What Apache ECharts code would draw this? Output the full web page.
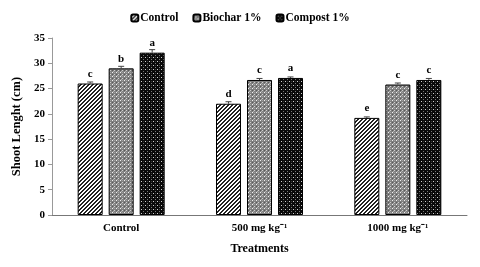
<!DOCTYPE html>
<html><head><meta charset="utf-8">
<script src="https://cdn.jsdelivr.net/npm/echarts@6/dist/echarts.min.js"></script>
<style>html,body{margin:0;padding:0;background:#fff}#c{width:480px;height:267px}</style>
</head><body><div id="c"></div>
<script>
var categories = ['Control', '500 mg kg\u207B\u00B9', '1000 mg kg\u207B\u00B9'];
var seriesNames = ['Control', 'Biochar 1%', 'Compost 1%'];
var controlVals = [26.0, 22.0, 19.2];
var biocharVals = [29.0, 26.7, 25.8];
var compostVals = [32.1, 27.1, 26.7];
var controlErr = [0.3, 0.4, 0.2];
var biocharErr = [0.4, 0.3, 0.3];
var compostErr = [0.6, 0.2, 0.3];
var controlLetters = ['c', 'd', 'e'];
var biocharLetters = ['b', 'c', 'c'];
var compostLetters = ['a', 'a', 'c'];
var yTicks = [0, 5, 10, 15, 20, 25, 30, 35];

function makePattern(size, bg, pixels) {
  var cv = document.createElement('canvas');
  cv.width = size; cv.height = size;
  var ctx = cv.getContext('2d');
  ctx.fillStyle = bg; ctx.fillRect(0, 0, size, size);
  pixels.forEach(function (p) { ctx.fillStyle = p[2]; ctx.fillRect(p[0], p[1], 1, 1); });
  return cv;
}
var hatchPx = [];
for (var x = 0; x < 4; x++) for (var y = 0; y < 4; y++) if ((x + y) % 4 < 2) hatchPx.push([x, y, '#222']);
var hatch = makePattern(4, '#fff', hatchPx);
var gray = makePattern(4, '#808080', [[0,0,'#f0f0f0'],[2,2,'#d0d0d0'],[2,0,'#a0a0a0'],[0,2,'#5a5a5a'],[1,3,'#b0b0b0']]);
var dark = makePattern(4, '#0a0a0a', [[1,1,'#cfcfcf'],[3,3,'#777'],[3,1,'#333']]);
var patterns = [hatch, gray, dark];
var vals = [controlVals, biocharVals, compostVals];
var errs = [controlErr, biocharErr, compostErr];
var letters = [controlLetters, biocharLetters, compostLetters];

var BW = 25, GAP = 6;
var font = 'Liberation Serif';
var series = [];
seriesNames.forEach(function (n, i) {
  series.push({
    name: n, type: 'bar', barWidth: BW, barGap: (GAP / BW * 100) + '%',
    data: vals[i],
    itemStyle: { color: { image: patterns[i], repeat: 'repeat' }, borderColor: '#000', borderWidth: 1 },
    label: {
      show: true, position: 'top', distance: 4,
      fontFamily: font, fontWeight: 'bold', fontSize: 11, color: '#000',
      formatter: function (p) { return letters[i][p.dataIndex]; }
    },
    emphasis: { disabled: true }
  });
});
seriesNames.forEach(function (n, i) {
  series.push({
    type: 'custom', silent: true, z: 5,
    data: vals[i].map(function (v, k) { return [k, v, errs[i][k]]; }),
    renderItem: function (params, api) {
      var k = api.value(0), v = api.value(1), e = api.value(2);
      var top = api.coord([k, v + e]);
      var bot = api.coord([k, v]);
      var cx = top[0] + (i - 1) * (BW + GAP);
      return { type: 'group', children: [
        { type: 'line', shape: { x1: cx, y1: top[1], x2: cx, y2: bot[1] }, style: { stroke: '#444', lineWidth: 1 } },
        { type: 'line', shape: { x1: cx - 3, y1: top[1], x2: cx + 3, y2: top[1] }, style: { stroke: '#444', lineWidth: 1 } }
      ]};
    }
  });
});

var chart = echarts.init(document.getElementById('c'), null, { renderer: 'canvas' });
chart.setOption({
  animation: false,
  backgroundColor: '#fff',
  legend: {
    data: seriesNames, top: 7, left: 'center', itemWidth: 7, itemHeight: 7, itemGap: 14,
    textStyle: { fontFamily: font, fontWeight: 'bold', fontSize: 11.5, color: '#000', padding: [0, 0, 0, -3] }
  },
  grid: { left: 52, right: 13, top: 38, bottom: 52 },
  xAxis: {
    type: 'category', data: categories,
    axisLine: { lineStyle: { color: '#777' } }, axisTick: { show: false },
    axisLabel: { fontFamily: font, fontWeight: 'bold', fontSize: 11, color: '#000', margin: 8 },
    name: 'Treatments', nameLocation: 'middle', nameGap: 28,
    nameTextStyle: { fontFamily: font, fontWeight: 'bold', fontSize: 12, color: '#000' }
  },
  yAxis: {
    type: 'value', min: 0, max: 35, interval: 5,
    splitLine: { show: false },
    axisLine: { show: true, lineStyle: { color: '#999' } },
    axisTick: { show: true, length: 4, lineStyle: { color: '#999' } },
    axisLabel: { fontFamily: font, fontWeight: 'bold', fontSize: 11, color: '#000', margin: 7,
      formatter: function (v) { return yTicks.indexOf(v) >= 0 ? String(v) : ''; } },
    name: 'Shoot Lenght (cm)', nameLocation: 'middle', nameGap: 28,
    nameTextStyle: { fontFamily: font, fontWeight: 'bold', fontSize: 12.5, color: '#000' }
  },
  series: series
});
</script></body></html>
